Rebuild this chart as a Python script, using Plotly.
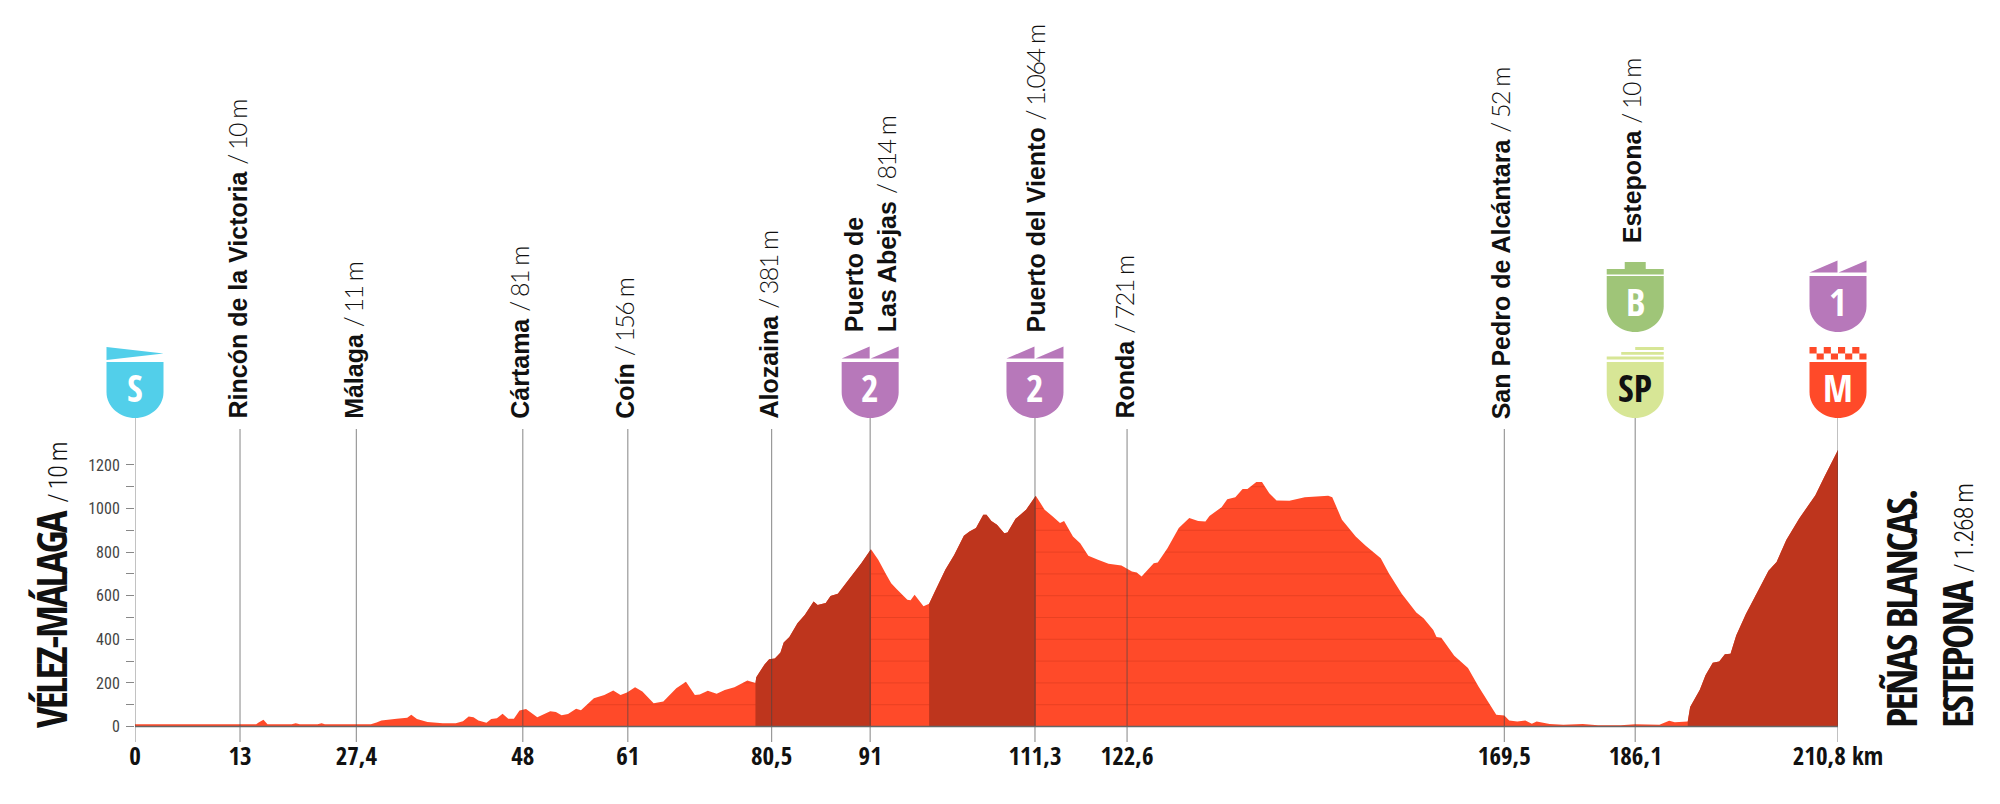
import numpy as np
import plotly.graph_objects as go

# profile (km, metres)
km = [0, 15.0, 15.3, 15.9, 16.4, 19.4, 19.9, 20.4, 22.6, 23.1, 23.5, 29.2, 29.9, 30.5, 32.4, 33.7, 34.2, 34.9,
      36.2, 37.5, 38.1, 39.7, 40.6, 41.3, 41.9, 42.5, 43.5, 44.1, 44.8, 45.5, 46.2, 46.9, 47.6, 48.4, 49.8,
      51.4, 52.1, 52.8, 53.6, 54.6, 55.2, 56.8, 58.1, 59.2, 60.1, 60.9, 61.9, 62.8, 64.2, 65.4, 67.0, 68.2,
      69.3, 69.9, 70.9, 72.0, 73.0, 74.2, 75.8, 76.8,
      76.9, 77.9, 78.5, 79.2, 79.9, 80.3, 81.0, 82.0, 82.9, 84.0, 84.5, 85.5, 86.1, 87.0, 87.7, 88.8, 89.9, 91.1,
      92.0, 93.0, 93.6, 94.3, 95.6, 96.0, 96.5, 97.6, 98.3,
      99.0, 100.3, 101.4, 102.6, 103.3, 104.1, 105.0, 105.4, 106.0, 106.7, 107.6, 108.0, 109.0, 110.3, 111.5,
      112.6, 113.6, 114.5, 115.0, 116.1, 117.0, 118.0, 119.2, 120.5, 122.1, 123.4, 124.0, 124.6, 126.1, 126.6,
      127.8, 129.2, 130.5, 131.6, 132.5, 133.0, 134.5, 135.2, 136.2, 137.1, 137.7, 138.8, 139.5, 140.4, 141.3,
      142.9, 144.8, 147.7, 148.2, 149.4, 151.1, 152.3, 154.2, 155.2, 156.8, 158.6, 159.5, 160.7, 161.1, 161.7,
      163.3, 165.0, 166.3, 168.5, 169.5, 170.1, 171.1, 172.1, 172.9, 173.5, 175.1, 176.8, 179.2, 181.1, 183.9,
      185.7, 188.7, 189.9, 190.6, 192.2,
      192.5, 193.7, 194.4, 195.3, 196.1, 196.8, 197.5, 198.2, 199.4, 200.8, 202.2, 203.2, 204.4, 206.0, 208.0,
      209.1, 210.8]
elevation = [10, 10, 18, 31, 10, 10, 15, 10, 10, 15, 10, 10, 18, 28, 35, 40, 54, 34,
             21, 18, 15, 15, 24, 46, 43, 28, 17, 34, 38, 58, 35, 35, 73, 80, 43,
             70, 67, 52, 57, 81, 75, 130, 145, 165, 145, 156, 180, 160, 107, 115, 176, 205,
             145, 147, 164, 150, 168, 180, 211, 199,
             226, 283, 309, 312, 339, 385, 410, 474, 512, 573, 557, 566, 599, 609, 642, 696, 749, 813,
             765, 696, 657, 630, 581, 579, 604, 552, 563,
             619, 719, 787, 875, 894, 910, 971, 971, 943, 925, 887, 890, 953, 994, 1058,
             994, 963, 933, 943, 872, 841, 783, 765, 746, 739, 711, 706, 688, 749, 752,
             818, 910, 956, 943, 940, 966, 1006, 1043, 1052, 1089, 1089, 1122, 1122, 1070, 1037,
             1035, 1052, 1058, 1052, 948, 872, 830, 772, 703, 609, 523, 497, 443, 410, 407,
             324, 268, 183, 54, 50, 28, 23, 28, 13, 23, 12, 8, 12, 6, 6,
             10, 8, 26, 20, 23,
             89, 169, 235, 293, 298, 331, 334, 417, 516, 615, 714, 755, 855, 954, 1061,
             1144, 1268]

# climbs shaded dark
climb_ranges = [(76.8, 91.1), (98.3, 111.5), (192.2, 210.8)]

# waypoints: position on the axis, printed km, name, altitude
tick_km = [0, 13, 27.4, 48, 61, 78.8, 91, 111.4, 122.8, 169.5, 185.7, 210.8]
tick_labels = ['0', '13', '27,4', '48', '61', '80,5', '91', '111,3', '122,6', '169,5', '186,1', '210,8 km']
town_km = [13, 27.4, 48, 61, 78.8, 91, 111.4, 122.8, 169.5, 185.7]
town_names = ['Rincón de la Victoria', 'Málaga', 'Cártama', 'Coín', 'Alozaina', 'Puerto de<br>Las Abejas',
              'Puerto del Viento', 'Ronda', 'San Pedro de Alcántara', 'Estepona']
town_alts = ['10 m', '11 m', '81 m', '156 m', '381 m', '814 m', '1.064 m', '721 m', '52 m', '10 m']
y_major = [0, 200, 400, 600, 800, 1000, 1200]
y_minor = [100, 300, 500, 700, 900, 1100]

km = np.array(km)
elevation = np.array(elevation)

RED = '#FF4A29'
DARK_RED = '#BE351D'
INK = '#111111'
BOLD = 'Liberation Sans'
NARROW = 'Open Sans Condensed'
THIN = 'Roboto Condensed'
LIGHT = '<span style="font-family:Lato;font-weight:300;letter-spacing:-1.5px">'
THIN_SPAN = f'<span style="font-family:{THIN};font-weight:300;font-size:26px;letter-spacing:-1px">'
TIGHT = '<span style="letter-spacing:-2.5px"><b>'

# the page has an 8px body margin, all pixel numbers below are page pixels
PAGE = 8
LEFT_PX = 134.5
RIGHT_PX = 1838
Y0_PX = 726.5
PX_PER_M = 0.218
BOTTOM_PX = 742


def m_at(py):
    return (Y0_PX - py) / PX_PER_M


def paper_y(py):
    return (BOTTOM_PX - py) / (BOTTOM_PX - PAGE)


fig = go.Figure()
fig.add_trace(go.Scatter(x=km, y=elevation, mode='lines', line=dict(width=0), fill='tozeroy', fillcolor=RED))

# faint level lines, only inside the profile
grid_km = np.linspace(0, 210.8, 2109)
grid_top = np.interp(grid_km, km, elevation)
for level in range(100, 1200, 100):
    fig.add_trace(go.Scatter(x=grid_km, y=np.where(grid_top >= level, level, np.nan), mode='lines',
                             line=dict(color='rgba(120,20,0,0.16)', width=1)))

for start, end in climb_ranges:
    mask = (km >= start) & (km <= end)
    fig.add_trace(go.Scatter(x=km[mask], y=elevation[mask], mode='lines', line=dict(width=0),
                             fill='tozeroy', fillcolor=DARK_RED))

# vertical marker lines
shield_km = [0, 91, 111.4, 185.7, 210.8]
for t in tick_km:
    top = 418 if t in shield_km else 429
    fig.add_trace(go.Scatter(x=[t, t], y=[m_at(BOTTOM_PX), m_at(top)], mode='lines', cliponaxis=False,
                             line=dict(color='rgba(70,70,70,0.55)', width=1.2)))
fig.add_trace(go.Scatter(x=[0, 210.8], y=[0, 0], mode='lines', cliponaxis=False, line=dict(color='#666666', width=1.5)))

# shields: same body, different flag on top
BODY = 'M -28.5,0 L 28.5,0 L 28.5,-30 C 28.5,-46 14,-56 0,-56 C -14,-56 -28.5,-46 -28.5,-30 Z'
RAMPS = 'M -28.5,3.5 L -0.5,3.5 L -0.5,15.5 Z M 0.5,3.5 L 28.5,3.5 L 28.5,15.5 Z'
START_FLAG = 'M -28.5,2 L -28.5,15 L 28.5,8.5 Z'
BONUS_FLAG = 'M -28.5,1.5 L 28.5,1.5 L 28.5,7 L 10.5,7 L 10.5,14 L -10.5,14 L -10.5,7 L -28.5,7 Z'
SPRINT_FLAG = ('M -28.5,2.5 L 28.5,2.5 L 28.5,5.5 L -28.5,5.5 Z '
               'M -14,7.2 L 28.5,7.2 L 28.5,10 L -14,10 Z '
               'M 0,12 L 28.5,12 L 28.5,15 L 0,15 Z')
cells = []
for i in range(8):
    x0 = -28.5 + i * 57 / 8
    x1 = x0 + 57 / 8
    y0, y1 = (8.5, 15) if i % 2 == 0 else (2.5, 8.5)
    cells.append(f'M {x0},{y0} L {x1},{y0} L {x1},{y1} L {x0},{y1} Z')
FINISH_FLAG = ' '.join(cells)

# km, body top in page pixels, colour, flag, letter, letter colour
shields = [
    (0, 362, '#52CFEA', START_FLAG, 'S', 'white'),
    (91, 362, '#B778BA', RAMPS, '2', 'white'),
    (111.4, 362, '#B778BA', RAMPS, '2', 'white'),
    (185.7, 276, '#9FC578', BONUS_FLAG, 'B', 'white'),
    (185.7, 362, '#D7E696', SPRINT_FLAG, 'SP', INK),
    (210.8, 276, '#B778BA', RAMPS, '1', 'white'),
    (210.8, 362, RED, FINISH_FLAG, 'M', 'white'),
]
for pos, top, color, flag, letter, letter_color in shields:
    for path in (BODY, flag):
        # paper refs so the shapes at both ends are not clipped by the plot area
        fig.add_shape(type='path', path=path, xsizemode='pixel', ysizemode='pixel',
                      xanchor=pos / 210.8, yanchor=paper_y(top), xref='paper', yref='paper',
                      fillcolor=color, line=dict(width=0))
    fig.add_annotation(x=pos, y=m_at(top + 25), text=f'<b>{letter}</b>', showarrow=False,
                       font=dict(family=NARROW, size=38, color=letter_color), yanchor='middle')

# town labels run upward from just above the line or shield
label_bottoms = {91: 334, 111.4: 334, 185.7: 245}
for pos, name, alt in zip(town_km, town_names, town_alts):
    shift = 0 if pos in (91, 111.4) else -4
    fig.add_annotation(x=pos, xshift=shift, y=m_at(label_bottoms.get(pos, 421)), text=f'<b>{name}</b> {LIGHT}/ {alt}</span>',
                       textangle=-90, showarrow=False, xanchor='center', yanchor='bottom', align='left',
                       font=dict(family=BOLD, size=25, color=INK))

# start and finish names
fig.add_annotation(x=0, xshift=-85, y=m_at(730), text=f'{TIGHT}VÉLEZ-MÁLAGA</b></span> {THIN_SPAN}/ 10 m</span>',
                   textangle=-90, showarrow=False, xanchor='center', yanchor='bottom',
                   font=dict(family=NARROW, size=42, color=INK))
fig.add_annotation(x=210.8, xshift=62, y=m_at(730), text=f'{TIGHT}PEÑAS BLANCAS.</b></span>', textangle=-90, showarrow=False,
                   xanchor='center', yanchor='bottom', font=dict(family=NARROW, size=42, color=INK))
fig.add_annotation(x=210.8, xshift=118, y=m_at(730), text=f'{TIGHT}ESTEPONA</b></span> {THIN_SPAN}/ 1.268 m</span>',
                   textangle=-90, showarrow=False, xanchor='center', yanchor='bottom',
                   font=dict(family=NARROW, size=42, color=INK))

fig.update_layout(
    width=2000 - 2 * PAGE, height=804 - 2 * PAGE, showlegend=False, plot_bgcolor='white', paper_bgcolor='white',
    margin=dict(l=LEFT_PX - PAGE, r=2000 - PAGE - RIGHT_PX, t=0, b=804 - PAGE - BOTTOM_PX, autoexpand=False),
    xaxis=dict(range=[0, 210.8], tickvals=tick_km, ticktext=tick_labels, showgrid=False, zeroline=False, ticks='',
               showline=False, ticklabelstandoff=-3, tickangle=0, tickfont=dict(family=NARROW, size=25, color=INK)),
    yaxis=dict(range=[m_at(BOTTOM_PX), m_at(PAGE)], tickvals=y_major, showgrid=False, zeroline=False, ticks='outside',
               ticklen=8, tickcolor='#888888', tickwidth=1, showline=False, ticklabelstandoff=3,
               tickfont=dict(family=THIN, size=16, color='#444444'),
               minor=dict(tickvals=y_minor, ticks='outside', ticklen=8, tickcolor='#888888', tickwidth=1)),
)

fig.write_html("out.html")
